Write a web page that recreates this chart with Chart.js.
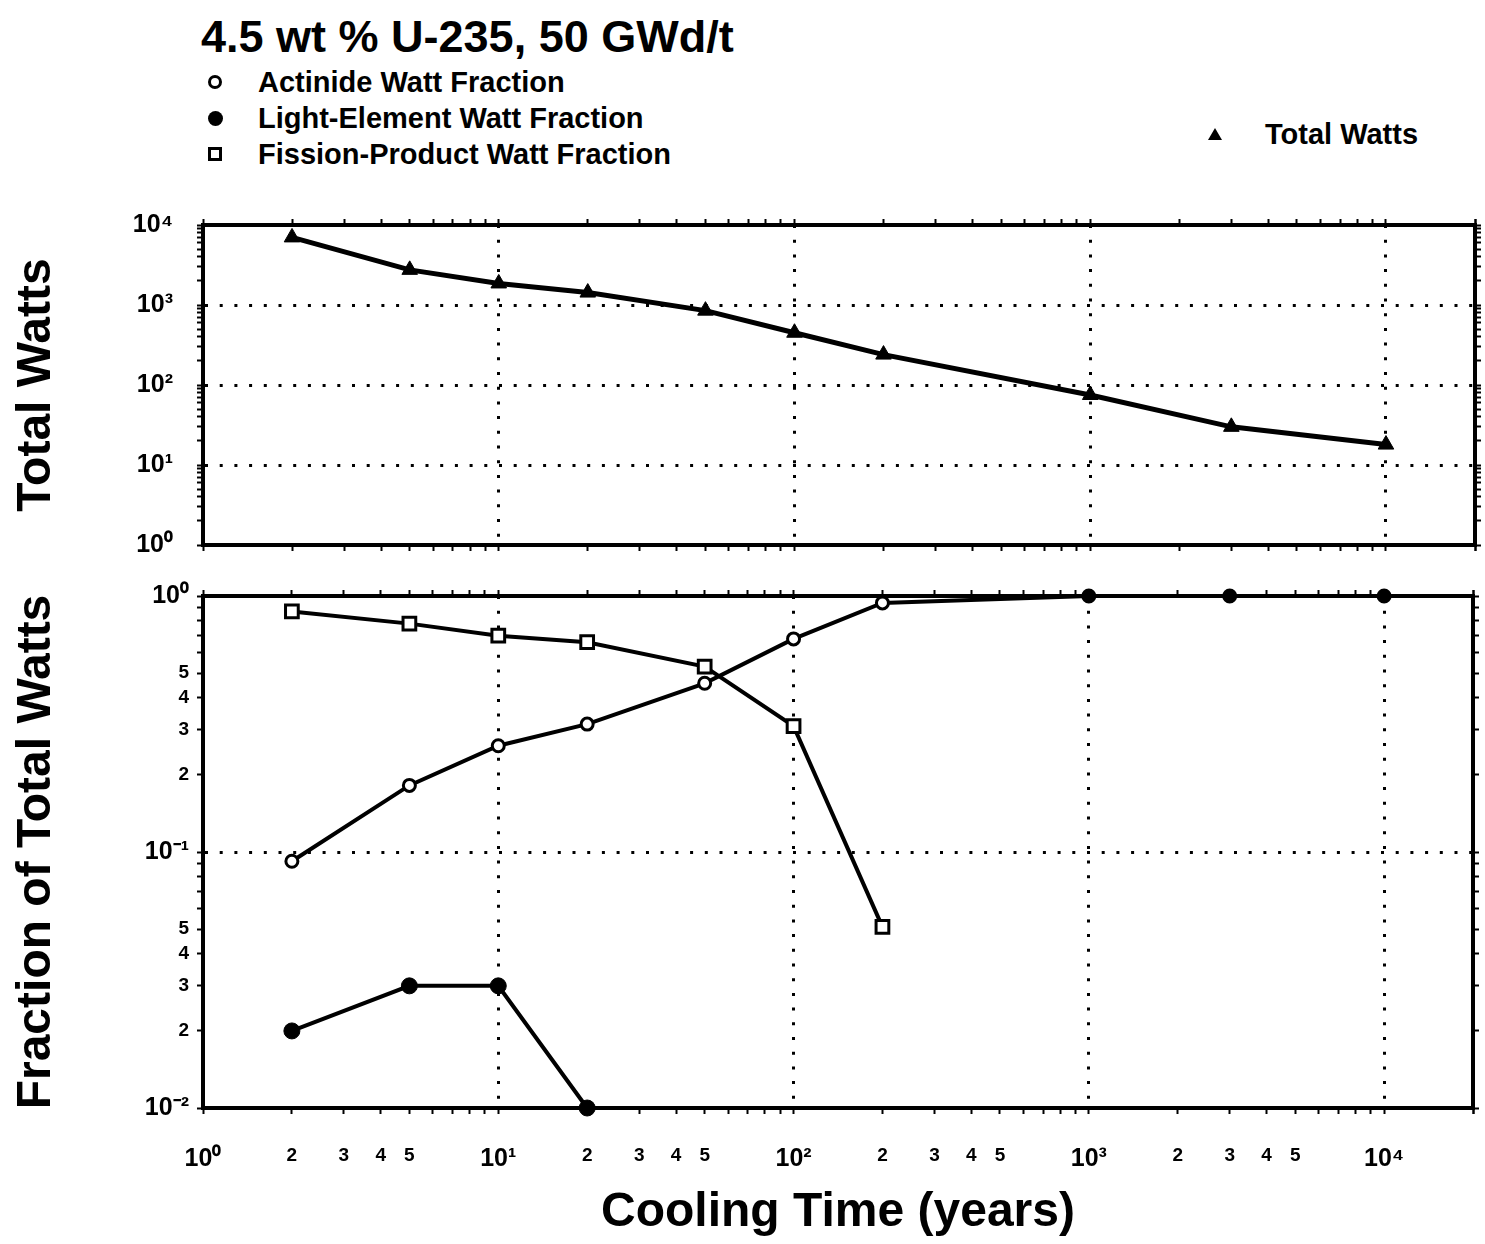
<!DOCTYPE html>
<html>
<head>
<meta charset="utf-8">
<script src="https://cdn.jsdelivr.net/npm/chart.js@4.4.1/dist/chart.umd.min.js"></script>
<style>
  body { margin: 0; background: #fff; width: 1485px; height: 1244px; position: relative; overflow: hidden;
         font-family: "Liberation Sans", Arial, sans-serif; color: #000; }
  #titulo { position: absolute; left: 201px; top: 14px; font-size: 45px; font-weight: bold; line-height: 1; white-space: nowrap; }
  .leg { position: absolute; font-size: 29px; font-weight: bold; line-height: 1; white-space: nowrap; }
  .marca { position: absolute; box-sizing: border-box; }
  .aberto { width: 14px; height: 14px; border: 3px solid #000; border-radius: 50%; }
  .cheio { width: 15px; height: 15px; background: #000; border-radius: 50%; }
  .quadrado { width: 14px; height: 14px; border: 3px solid #000; }
  .triangulo { width: 0; height: 0; border-left: 7px solid transparent; border-right: 7px solid transparent; border-bottom: 12px solid #000; }
  canvas { position: absolute; left: 0; }
  #graficoTotal { top: 195px; }
  #graficoFracao { top: 560px; }
</style>
</head>
<body>
<div id="titulo">4.5 wt % U-235, 50 GWd/t</div>

<span class="marca aberto" style="left:208px; top:75px"></span>
<div class="leg" style="left:258px; top:68px">Actinide Watt Fraction</div>
<span class="marca cheio" style="left:208px; top:111px"></span>
<div class="leg" style="left:258px; top:104px">Light-Element Watt Fraction</div>
<span class="marca quadrado" style="left:208px; top:147px"></span>
<div class="leg" style="left:258px; top:140px">Fission-Product Watt Fraction</div>
<span class="marca triangulo" style="left:1208px; top:128px"></span>
<div class="leg" style="left:1265px; top:120px">Total Watts</div>

<canvas id="graficoTotal" width="1485" height="375"></canvas>
<canvas id="graficoFracao" width="1485" height="682"></canvas>

<script>
// valores (tempo de resfriamento em anos)
const temposResfriamento = [2, 5, 10, 20, 50, 100, 200, 1000, 3000, 10000];
const wattsTotais = [7000, 2750, 1860, 1430, 850, 450, 240, 75, 30, 18];
const fracaoActinideos = [0.092, 0.182, 0.26, 0.316, 0.456, 0.68, 0.94, 1.0, 1.0, 1.0];
const temposLeves = [2, 5, 10, 20];
const fracaoLeves = [0.02, 0.03, 0.03, 0.01];
const temposFissao = [2, 5, 10, 20, 50, 100, 200];
const fracaoFissao = [0.87, 0.78, 0.70, 0.66, 0.53, 0.31, 0.051];

// marcas dos eixos
const decadasX = [1, 10, 100, 1000, 10000];
const decadasTotal = [1, 10, 100, 1000];
const decadasFracao = [0.01, 0.1];
const mantissas = [1, 2, 3, 4, 5, 6, 7, 8, 9];
const mantissasRotuladas = [2, 3, 4, 5];
const sobrescrito = { '-': '⁻', '0': '⁰', '1': '¹', '2': '²', '3': '³', '4': '⁴' };

function montarTicks(decadas, extra) {
  const lista = [];
  decadas.forEach(d => mantissas.forEach(m => lista.push(Number((m * d).toPrecision(10)))));
  return lista.concat(extra);
}

const ticksX = montarTicks(decadasX, [20000]).filter(v => v <= 20000);
const ticksTotal = montarTicks(decadasTotal, [10000]);
const ticksFracao = montarTicks(decadasFracao, [1]);

function expoente(v) { return Math.round(Math.log10(v)); }
function ehDecada(v) { return Math.abs(Math.log10(v) - expoente(v)) < 1e-9; }
function mantissa(v) { return Math.round(v / Math.pow(10, Math.floor(Math.log10(v) + 1e-9))); }

function potencia(v) {
  return '10' + String(expoente(v)).split('').map(c => sobrescrito[c]).join('');
}

function rotuloCompleto(v) {
  if (ehDecada(v)) return potencia(v);
  const m = mantissa(v);
  return mantissasRotuladas.includes(m) && v < 10000 ? String(m) : '';
}

function rotuloDecadas(v) {
  return ehDecada(v) ? potencia(v) : '';
}

function fonteTick(ctx) {
  const v = ctx.tick ? ctx.tick.value : 1;
  return ehDecada(v) ? { size: 25, weight: 'bold' } : { size: 19, weight: 'bold' };
}

function eixoLog(cfg) {
  return {
    type: 'logarithmic',
    position: cfg.posicao,
    min: cfg.min,
    max: cfg.max,
    afterBuildTicks: escala => { escala.ticks = cfg.valores.map(v => ({ value: v })); },
    afterFit: escala => {
      // tamanho fixo do eixo, sem a folga extra dos rótulos
      if (escala.isHorizontal()) escala.height = cfg.tamanho;
      else escala.width = cfg.tamanho;
      escala.paddingLeft = 0;
      escala.paddingRight = 0;
      escala.paddingTop = 0;
      escala.paddingBottom = 0;
    },
    ticks: {
      display: !!cfg.rotulo,
      autoSkip: false,
      maxRotation: 0,
      minRotation: 0,
      padding: cfg.padding || 0,
      color: '#000',
      font: fonteTick,
      callback: v => (cfg.rotulo ? cfg.rotulo(v) : '')
    },
    grid: {
      drawOnChartArea: !!cfg.grade,
      color: ctx => (ctx.tick && ehDecada(ctx.tick.value) ? '#000' : 'rgba(0,0,0,0)'),
      lineWidth: 3,
      tickColor: '#000',
      tickWidth: 2,
      tickLength: 6
    },
    border: { display: true, color: '#000', width: 4, dash: [3, 11.7] },
    title: cfg.titulo
      ? { display: true, text: cfg.titulo, color: '#000', font: { size: 48, weight: 'bold' }, padding: { top: 8, bottom: 0 } }
      : { display: false }
  };
}

const pontos = (xs, ys) => xs.map((x, i) => ({ x, y: ys[i] }));

Chart.defaults.font.family = '"Liberation Sans", Arial, sans-serif';
Chart.defaults.color = '#000';

const opcoesBase = {
  responsive: false,
  animation: false,
  events: [],
  layout: { padding: 0 },
  plugins: { legend: { display: false }, tooltip: { enabled: false } }
};

new Chart(document.getElementById('graficoTotal'), {
  type: 'line',
  data: {
    datasets: [{
      label: 'Total Watts',
      data: pontos(temposResfriamento, wattsTotais),
      borderColor: '#000',
      borderWidth: 5,
      pointStyle: 'triangle',
      pointRadius: 9,
      pointBackgroundColor: '#000',
      pointBorderColor: '#000',
      pointBorderWidth: 1,
      tension: 0,
      clip: false
    }]
  },
  options: {
    ...opcoesBase,
    scales: {
      x: eixoLog({ posicao: 'bottom', min: 1, max: 20000, valores: ticksX, tamanho: 25, grade: true }),
      x2: eixoLog({ posicao: 'top', min: 1, max: 20000, valores: ticksX, tamanho: 30 }),
      y: eixoLog({ posicao: 'left', min: 1, max: 10000, valores: ticksTotal, tamanho: 203, grade: true,
                   rotulo: rotuloDecadas, padding: 24, titulo: 'Total Watts' }),
      y2: eixoLog({ posicao: 'right', min: 1, max: 10000, valores: ticksTotal, tamanho: 6 })
    }
  }
});

new Chart(document.getElementById('graficoFracao'), {
  type: 'line',
  data: {
    datasets: [
      {
        label: 'Actinide Watt Fraction',
        data: pontos(temposResfriamento, fracaoActinideos),
        borderColor: '#000',
        borderWidth: 4,
        pointStyle: 'circle',
        pointRadius: 6,
        pointBorderWidth: 3,
        pointBorderColor: '#000',
        pointBackgroundColor: fracaoActinideos.map(f => (f >= 1 ? '#000' : '#fff')),
        tension: 0,
        clip: false
      },
      {
        label: 'Light-Element Watt Fraction',
        data: pontos(temposLeves, fracaoLeves),
        borderColor: '#000',
        borderWidth: 4,
        pointStyle: 'circle',
        pointRadius: 8,
        pointBorderWidth: 1,
        pointBorderColor: '#000',
        pointBackgroundColor: '#000',
        tension: 0,
        clip: false
      },
      {
        label: 'Fission-Product Watt Fraction',
        data: pontos(temposFissao, fracaoFissao),
        borderColor: '#000',
        borderWidth: 4,
        pointStyle: 'rect',
        pointRadius: 9,
        pointBorderWidth: 3,
        pointBorderColor: '#000',
        pointBackgroundColor: '#fff',
        tension: 0,
        clip: false
      }
    ]
  },
  options: {
    ...opcoesBase,
    scales: {
      x: eixoLog({ posicao: 'bottom', min: 1, max: 20000, valores: ticksX, tamanho: 134, grade: true,
                   rotulo: rotuloCompleto, padding: 30, titulo: 'Cooling Time (years)' }),
      x2: eixoLog({ posicao: 'top', min: 1, max: 20000, valores: ticksX, tamanho: 36 }),
      y: eixoLog({ posicao: 'left', min: 0.01, max: 1, valores: ticksFracao, tamanho: 203, grade: true,
                   rotulo: rotuloCompleto, padding: 8, titulo: 'Fraction of Total Watts' }),
      y2: eixoLog({ posicao: 'right', min: 0.01, max: 1, valores: ticksFracao, tamanho: 6 })
    }
  }
});
</script>
</body>
</html>
